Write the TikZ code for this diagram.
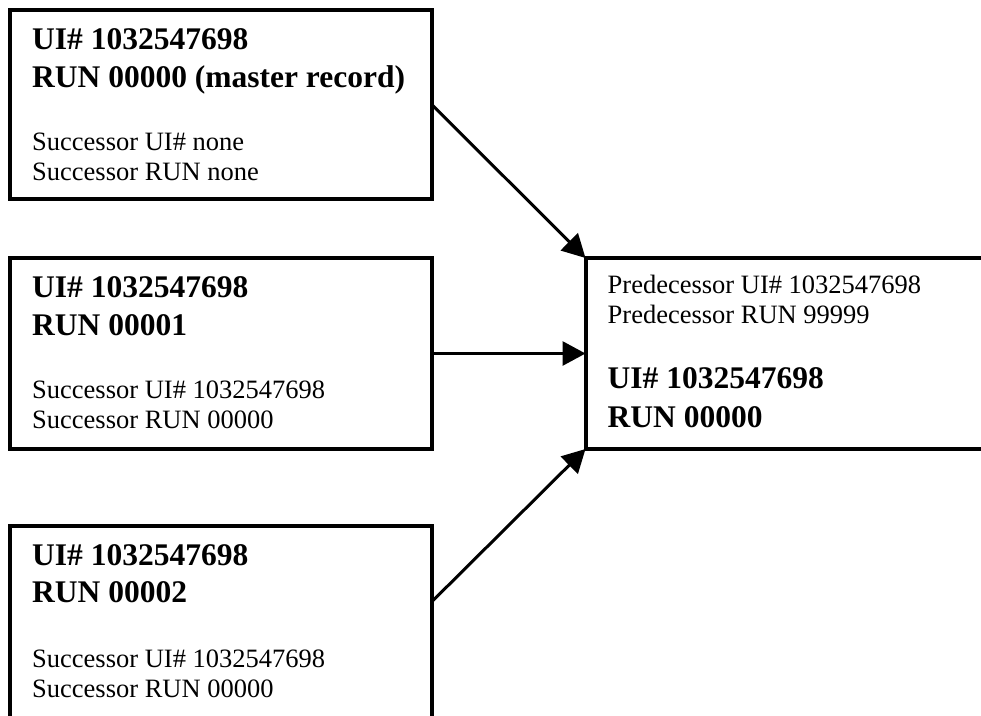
\documentclass[tikz,border=0pt]{standalone}
\usepackage{fontspec}
\setmainfont{Liberation Serif}
\usetikzlibrary{arrows.meta,calc}
\begin{document}
\begin{tikzpicture}[x=1pt,y=-1pt,
  rec/.style={draw, line width=4pt, rectangle, anchor=north west, inner sep=0pt, outer sep=0pt},
  norm/.style={anchor=base west, inner sep=0pt, font=\fontsize{26.5}{30}\selectfont},
  hd/.style={anchor=base west, inner sep=0pt, font=\fontsize{31.5}{38}\selectfont\bfseries},
  link/.style={line width=3pt, -{Triangle[length=23pt,width=24pt]}}]
\useasboundingbox (0,0) rectangle (981,715);
\clip (0,0) rectangle (981,715);
% boxes
\node[rec, minimum width=421.5pt, minimum height=188.5pt] (b1) at (10,10) {};
\node[rec, minimum width=421.5pt, minimum height=191pt] (b2) at (10,258) {};
\node[rec, minimum width=421.5pt, minimum height=240pt] (b3) at (10,526) {};
\node[rec, minimum width=500pt, minimum height=191pt] (pr) at (585.5,258) {};
% box 1 text
\node[hd] (t1a) at ($(b1.north west)+(22,39)$) {UI\# 1032547698};
\node[hd] (t1b) at ($(b1.north west)+(22,77)$) {RUN 00000 (master record)};
\node[norm] (t1c) at ($(b1.north west)+(22,140)$) {Successor UI\# none};
\node[norm] (t1d) at ($(b1.north west)+(22,170)$) {Successor RUN none};
% box 2 text
\node[hd] (t2a) at ($(b2.north west)+(22,39)$) {UI\# 1032547698};
\node[hd] (t2b) at ($(b2.north west)+(22,77)$) {RUN 00001};
\node[norm] (t2c) at ($(b2.north west)+(22,140)$) {Successor UI\# 1032547698};
\node[norm] (t2d) at ($(b2.north west)+(22,170)$) {Successor RUN 00000};
% box 3 text
\node[hd] (t3a) at ($(b3.north west)+(22,39)$) {UI\# 1032547698};
\node[hd] (t3b) at ($(b3.north west)+(22,76)$) {RUN 00002};
\node[norm] (t3c) at ($(b3.north west)+(22,141)$) {Successor UI\# 1032547698};
\node[norm] (t3d) at ($(b3.north west)+(22,171)$) {Successor RUN 00000};
% predecessor box text
\node[norm] (tpa) at ($(pr.north west)+(22,35)$) {Predecessor UI\# 1032547698};
\node[norm] (tpb) at ($(pr.north west)+(22,65)$) {Predecessor RUN 99999};
\node[hd] (tpc) at ($(pr.north west)+(22,130)$) {UI\# 1032547698};
\node[hd] (tpd) at ($(pr.north west)+(22,169)$) {RUN 00000};
% connectors
\coordinate (b3a) at ($(b3.north east)+(0,76)$);
\draw[link] (b1.east) -- (pr.north west);
\draw[link] (b2.east) -- (pr.west);
\draw[link] (b3a) -- (pr.south west);
\end{tikzpicture}
\end{document}
